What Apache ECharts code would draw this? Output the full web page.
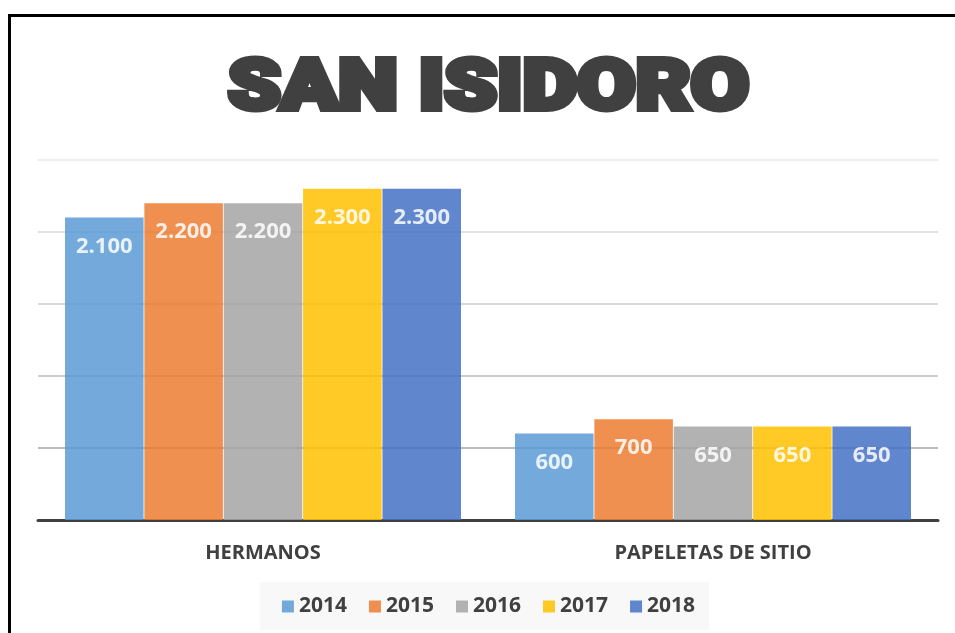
<!DOCTYPE html>
<html>
<head>
<meta charset="utf-8">
<script src="https://cdn.jsdelivr.net/npm/echarts@6/dist/echarts.min.js"></script>
<style>
  html, body { margin: 0; padding: 0; background: #fff; overflow: hidden; }
  #frame { position: absolute; left: 8px; top: 14px; width: 1000px; height: 700px; border: 3px solid #000; box-sizing: border-box; }
  #chart { position: absolute; left: 11px; top: 0; width: 955px; height: 633px; }
</style>
</head>
<body>
<div id="frame"></div>
<div id="chart"></div>
<script>
const categories = ["HERMANOS", "PAPELETAS DE SITIO"];
const years = ["2014", "2015", "2016", "2017", "2018"];
const values = {
  "2014": [2100, 600],
  "2015": [2200, 700],
  "2016": [2200, 650],
  "2017": [2300, 650],
  "2018": [2300, 650]
};
const colors = ["#5B9BD5", "#ED7D31", "#A5A5A5", "#FFC000", "#4472C4"];

const font = '"Open Sans", "Liberation Sans", sans-serif';
const dark = "#404040";

function fmt(v) {
  return String(v).replace(/\B(?=(\d{3})+(?!\d))/g, ".");
}

const chart = echarts.init(document.getElementById("chart"), null, { renderer: "canvas" });

chart.setOption({
  animation: false,
  color: colors,
  graphic: [{
    type: "text",
    x: 477.5,
    y: 91,
    scaleX: 1.19,
    style: {
      text: "SAN ISIDORO",
      fill: dark,
      stroke: dark,
      lineWidth: 6,
      align: "center",
      verticalAlign: "middle",
      font: '900 71px Roboto, "Noto Sans", sans-serif'
    }
  }],
  grid: { left: 27, right: 28, top: 160, bottom: 113 },
  legend: {
    data: years,
    left: "center",
    top: 582,
    icon: "rect",
    itemWidth: 12,
    itemHeight: 12,
    itemGap: 22,
    padding: [14, 14, 13, 22],
    backgroundColor: "#f8f8f8",
    textStyle: { color: dark, fontFamily: font, fontWeight: "bold", fontSize: 21 }
  },
  xAxis: {
    type: "category",
    data: categories,
    axisTick: { show: false },
    axisLine: { lineStyle: { color: dark, width: 3 } },
    axisLabel: { color: dark, fontFamily: font, fontWeight: "bold", fontSize: 20, margin: 23 }
  },
  yAxis: {
    type: "value",
    min: 0,
    max: 2500,
    interval: 500,
    axisLabel: { show: false },
    axisLine: { show: false },
    axisTick: { show: false },
    splitLine: {
      lineStyle: { color: ["#a6a6a6", "#a6a6a6", "#bdbdbd", "#cccccc", "#d9d9d9", "#e8e8e8"], width: 1.5 }
    }
  },
  series: years.map((y, i) => ({
    name: y,
    type: "bar",
    data: values[y],
    barGap: "1%",
    barCategoryGap: "12%",
    itemStyle: { color: colors[i], opacity: 0.85 },
    label: {
      show: true,
      position: "insideTop",
      distance: 18,
      color: "#fff",
      fontFamily: font,
      fontWeight: "bold",
      fontSize: 22,
      formatter: p => fmt(p.value)
    }
  }))
});
</script>
</body>
</html>
